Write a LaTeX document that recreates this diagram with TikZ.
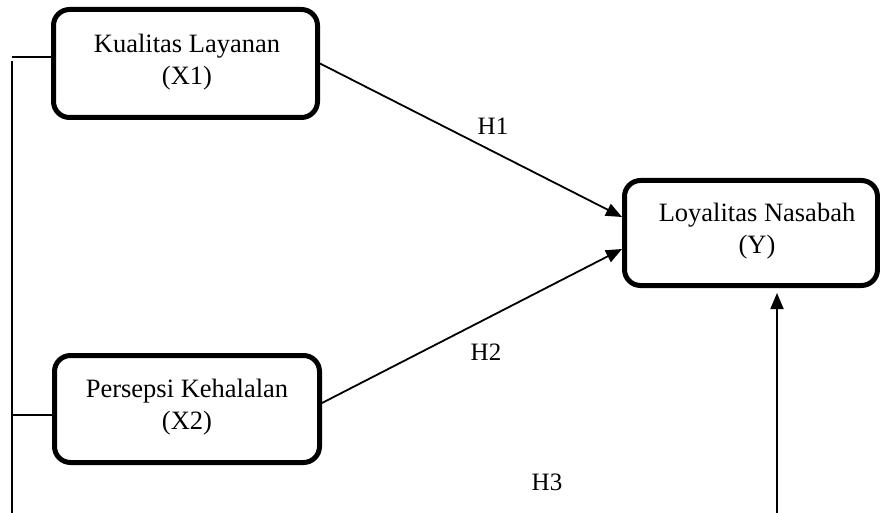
\documentclass[tikz,border=0pt]{standalone}
\usepackage{fontspec}
\setmainfont{Liberation Serif}
\usetikzlibrary{arrows.meta}
\tikzset{
  varbox/.style={draw, line width=5pt, rounded corners=16pt, inner sep=0pt},
  boxtext/.style={align=center, font=\fontsize{26.5}{32}\selectfont, inner sep=0pt},
  hyplabel/.style={font=\fontsize{25}{30}\selectfont, inner sep=0pt},
  conn/.style={line width=1.8pt},
  arr/.style={conn, -{Triangle[length=16pt,width=13pt]}}
}
\begin{document}
\begin{tikzpicture}[x=1pt,y=-1pt]
\useasboundingbox (0,0) rectangle (880,513);
% boxes
\node[varbox, minimum width=264pt, minimum height=108pt] (X1) at (185.5,63.5) {};
\node[boxtext] (X1t) at (187,62) {Kualitas Layanan\\(X1)};
\node[varbox, minimum width=265pt, minimum height=107pt] (X2) at (187,409) {};
\node[boxtext] (X2t) at (187,407) {Persepsi Kehalalan\\(X2)};
\node[varbox, minimum width=253pt, minimum height=105pt] (Y) at (751,233) {};
\node[boxtext] (Yt) at (757,231) {Loyalitas Nasabah\\(Y)};
% labels
\node[hyplabel] (H1) at (493,126) {H1};
\node[hyplabel] (H2) at (486,352) {H2};
\node[hyplabel] (H3) at (547,482) {H3};
% left bracket lines
\coordinate (la) at (12,57);
\coordinate (lb) at (12,61);
\coordinate (lc) at (12,513);
\coordinate (ld) at (12,415);
\draw[conn] (la) -- (la -| X1.west);
\draw[conn] (lb) -- (lc);
\draw[conn] (ld) -- (ld -| X2.west);
% arrows
\coordinate (y1) at ([yshift=16pt]Y.west);
\coordinate (y2) at ([yshift=-16pt]Y.west);
\draw[arr] (X1.east) -- (y1);
\draw[arr] ([yshift=6pt]X2.east) -- (y2);
\coordinate (rb) at (777,513);
\draw[arr] (rb) -- (777,293);
\end{tikzpicture}
\end{document}
